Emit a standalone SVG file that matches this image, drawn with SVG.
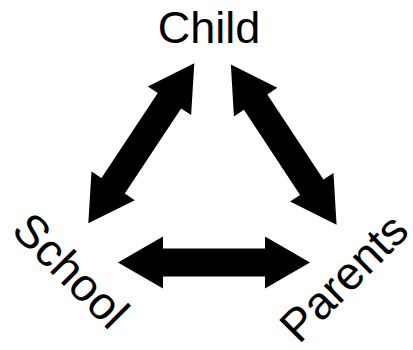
<svg xmlns="http://www.w3.org/2000/svg" width="413" height="350" viewBox="0 0 413 350">
<style>
.lbl{font-family:"Liberation Sans",Arial,sans-serif;font-size:46px;fill:#000}
.arr{fill:#000}
</style>
<defs>
<path id="dbl" d="M-96,0 L-51,-26 L-51,-14 L51,-14 L51,-26 L96,0 L51,26 L51,14 L-51,14 L-51,26 Z"/>
</defs>
<rect width="413" height="350" fill="#fff"/>
<g id="connectors" class="arr">
<use href="#dbl" transform="translate(214 262.5)"/>
<use href="#dbl" transform="translate(141.3 143.3) rotate(123.5)"/>
<use href="#dbl" transform="translate(283.7 144.7) rotate(56.6)"/>
</g>
<g id="child"><text class="lbl" x="209" y="43" text-anchor="middle" style="font-size:45px">Child</text></g>
<g id="school"><text class="lbl" x="10" y="232" transform="rotate(45 10 232)">School</text></g>
<g id="parents"><text class="lbl" x="299" y="345" transform="rotate(-45 299 345)">Parents</text></g>
</svg>
